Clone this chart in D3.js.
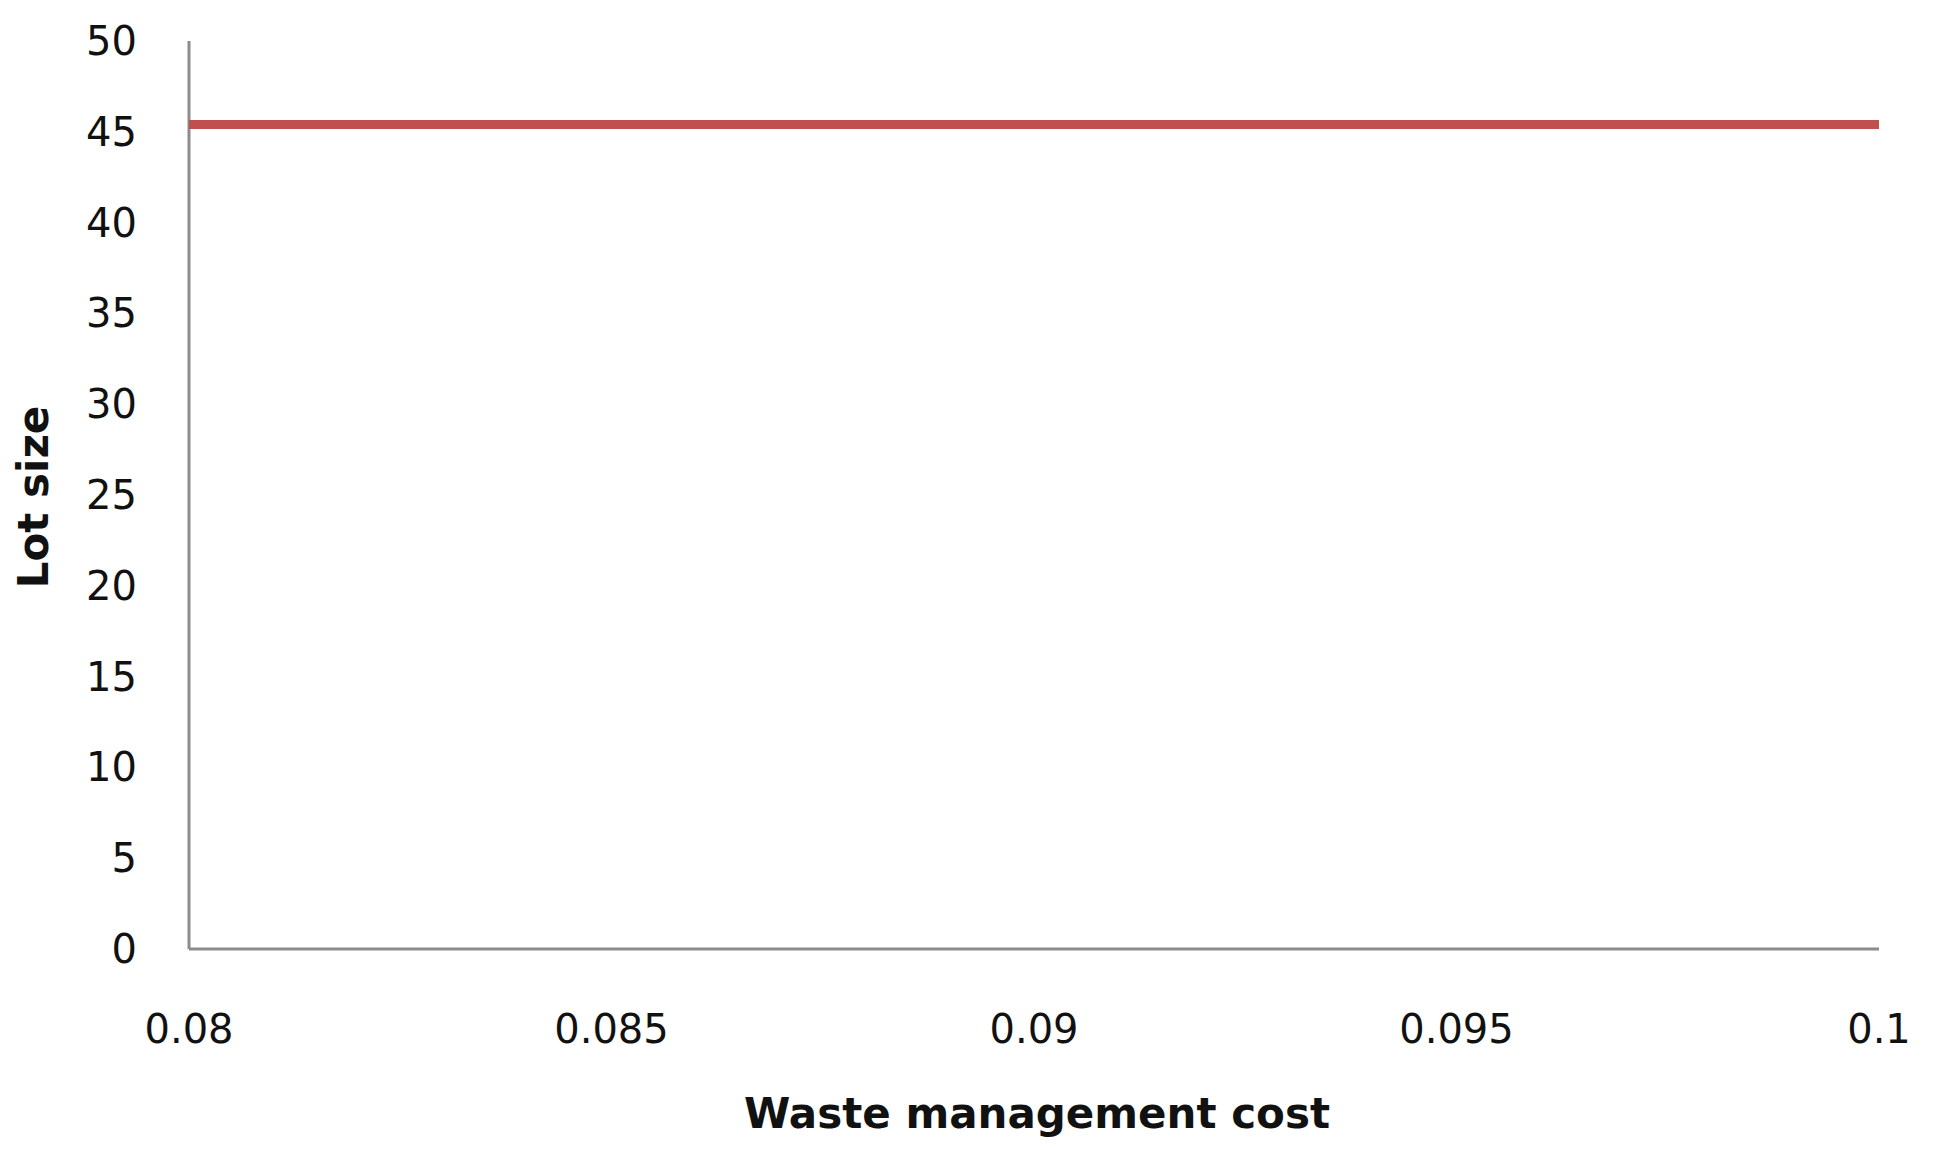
<!DOCTYPE html>
<html>
<head>
<meta charset="utf-8">
<script src="https://cdn.jsdelivr.net/npm/d3@7"></script>
<style>
  body { margin: 0; background: #fff; }
  text { font-family: "DejaVu Sans", "Open Sans", sans-serif; fill: #111; }
</style>
</head>
<body>
<svg id="chart"></svg>
<script>
// data
const costValues = [0.08, 0.085, 0.09, 0.095, 0.1];
const lotSizes = [45.4, 45.4, 45.4, 45.4, 45.4];
const xTickLabels = ["0.08", "0.085", "0.09", "0.095", "0.1"];
const yTicks = [0, 5, 10, 15, 20, 25, 30, 35, 40, 45, 50];

const width = 1938, height = 1150;
const margin = { left: 189, right: 59, top: 41, bottom: 201 };

const svg = d3.select("#chart").attr("width", width).attr("height", height);

const x = d3.scaleLinear().domain([0.08, 0.1]).range([margin.left, width - margin.right]);
const y = d3.scaleLinear().domain([0, 50]).range([height - margin.bottom, margin.top]);

// axes lines
svg.append("line")
    .attr("x1", x(0.08)).attr("x2", x(0.08))
    .attr("y1", y(50)).attr("y2", y(0))
    .attr("stroke", "#8c8c8c").attr("stroke-width", 3);
svg.append("line")
    .attr("x1", x(0.08)).attr("x2", x(0.1))
    .attr("y1", y(0)).attr("y2", y(0))
    .attr("stroke", "#8c8c8c").attr("stroke-width", 3);

// y tick labels
svg.selectAll(".ytick").data(yTicks).enter().append("text")
    .attr("x", 137)
    .attr("y", d => y(d))
    .attr("dy", "0.35em")
    .attr("text-anchor", "end")
    .style("font-size", "40px")
    .text(d => d);

// x tick labels
svg.selectAll(".xtick").data(costValues).enter().append("text")
    .attr("x", d => x(d))
    .attr("y", 1043)
    .attr("text-anchor", "middle")
    .style("font-size", "40px")
    .text((d, i) => xTickLabels[i]);

// the series line
const line = d3.line().x(d => x(d[0])).y(d => y(d[1]));
svg.append("path")
    .datum(costValues.map((c, i) => [c, lotSizes[i]]))
    .attr("d", line)
    .attr("fill", "none")
    .attr("stroke", "#c0504d")
    .attr("stroke-width", 9);

// axis titles
svg.append("text")
    .attr("x", 1037).attr("y", 1128)
    .attr("text-anchor", "middle")
    .style("font-size", "42px").style("font-weight", "bold")
    .text("Waste management cost");

svg.append("text")
    .attr("transform", "translate(48, 497) rotate(-90)")
    .attr("text-anchor", "middle")
    .style("font-size", "42px").style("font-weight", "bold")
    .text("Lot size");
</script>
</body>
</html>
